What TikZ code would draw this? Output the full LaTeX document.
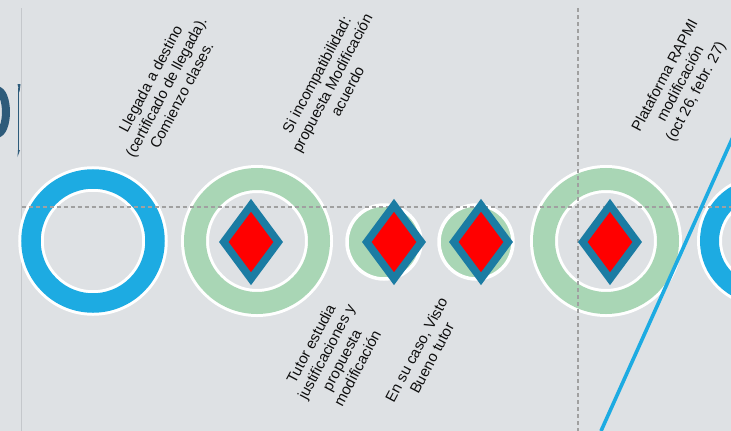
\documentclass[tikz,border=0pt]{standalone}
\usepackage{fontspec}
\setmainfont{Liberation Sans}
\usetikzlibrary{shapes.geometric}
\definecolor{bg}{RGB}{222,225,228}
\definecolor{ringblue}{RGB}{29,171,226}
\definecolor{ringgreen}{RGB}{169,214,181}
\definecolor{dteal}{RGB}{27,124,163}
\definecolor{dred}{RGB}{255,0,0}
\definecolor{dashgray}{RGB}{160,160,160}
\definecolor{axisgray}{RGB}{196,199,203}
\definecolor{glyphblue}{RGB}{46,91,122}
\definecolor{txt}{RGB}{15,15,15}
\begin{document}
\begin{tikzpicture}[x=1pt,y=-1pt,
  ringbase/.style={circle, inner sep=0pt, outer sep=0pt, draw=white, fill=bg},
  bluering/.style={ringbase, line width=3pt, double=ringblue, double distance=19.5pt, minimum size=124pt},
  bluering2/.style={ringbase, line width=3pt, double=ringblue, double distance=19pt, minimum size=107pt},
  greenring/.style={ringbase, line width=3pt, double=ringgreen, double distance=22pt, minimum size=124pt},
  greendot/.style={circle, inner sep=0pt, outer sep=0pt, draw=white, line width=3.5pt, fill=ringgreen, minimum size=74pt},
  mark diamond/.style={diamond, inner sep=0pt, outer sep=0pt, draw=dteal, fill=dred, line width=7.6pt, minimum width=54.5pt, minimum height=73.5pt},
  guide/.style={dashgray, line width=1.1pt, dash pattern=on 4pt off 3pt},
  lbl/.style={font=\fontsize{15}{17.5}\selectfont, text=txt, align=center, rotate=62, inner sep=0pt}
]
\useasboundingbox (0,0) rectangle (731,431);
\clip (0,0) rectangle (731,431);
\fill[bg] (0,0) rectangle (731,431);

% left axis
\coordinate (ax1) at (21.5,8);
\coordinate (ax2) at (21.5,431);
\draw[axisgray, line width=1pt] (ax1) -- (ax2);

% circles
\node[bluering]  (c1) at (93,241) {};
\node[greenring] (c2) at (257,241) {};
\node[greendot]  (c3) at (384,242) {};
\node[greendot]  (c4) at (476,242) {};
\node[greenring] (c5) at (606,241) {};
\node[bluering2] (c6) at (763,241) {};

% guides
\coordinate (h1) at (21.5,207);
\coordinate (h2) at (731,207);
\coordinate (v1) at (578,8);
\coordinate (v2) at (578,431);
\draw[guide] (h1) -- (h2);
\draw[guide] (v1) -- (v2);

% diagonal
\coordinate (dg1) at (601,431);
\coordinate (dg2) at (737,128);
\draw[ringblue, line width=3.6pt] (dg1) -- (dg2);

% diamonds
\node[mark diamond] (d2) at (251,242) {};
\node[mark diamond] (d3) at (394,242) {};
\node[mark diamond] (d4) at (481,242) {};
\node[mark diamond] (d5) at (610,242) {};

% labels
\node[lbl] (t1) at (166,87) {Llegada a destino\\(certificado de llegada).\\Comienzo clases.};
\node[lbl] (t2) at (332,83) {Si incompatibilidad:\\propuesta Modificación\\acuerdo};
\node[lbl] (t3) at (681,84) {Plataforma RAPMI\\modificación\\(oct 26, febr. 27)};
\node[lbl] (t4) at (334,356) {Tutor estudia\\justificaciones y\\propuesta\\modificación};
\node[lbl] (t5) at (424,354) {En su caso, Visto\\Bueno tutor};

% partial title glyphs at left edge
\coordinate (g1) at (-4,90);
\coordinate (g2) at (-4,134);
\draw[glyphblue, line width=8pt] (g1) .. controls (9.3,90) and (9.3,134) .. (g2);
\coordinate (b1) at (18.7,88);
\coordinate (b2) at (18.7,152);
\draw[glyphblue, line width=0.6pt] (b1) -- (b2);
\fill[glyphblue] (17.5,84) -- (20.5,84) -- (19.5,92) -- cycle;
\fill[glyphblue] (18,150) -- (20,150) -- (17.5,157) -- cycle;
\end{tikzpicture}
\end{document}
